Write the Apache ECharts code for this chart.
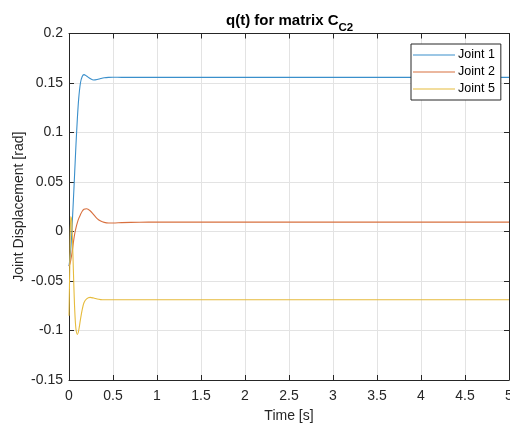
<!DOCTYPE html>
<html>
<head>
<meta charset="utf-8">
<title>q(t) for matrix C_C2</title>
<script src="https://cdn.jsdelivr.net/npm/echarts@6/dist/echarts.min.js"></script>
<style>
  html, body { margin: 0; padding: 0; background: #fff; }
  #chart { width: 510px; height: 425px; }
</style>
</head>
<body>
<div id="chart"></div>
<script>
// Sample instants [s]
const timeS = [0, 0.01, 0.02, 0.03, 0.04, 0.05, 0.06, 0.07, 0.08, 0.095, 0.11, 0.13, 0.15, 0.17, 0.2, 0.24, 0.28, 0.32, 0.36, 0.4, 0.45, 0.5, 0.6, 0.8, 1, 2, 3, 4, 5];

// Joint displacements [rad]
const joint1 = [-0.035, -0.028, -0.018, -0.004, 0.014, 0.032, 0.051, 0.07, 0.089, 0.114, 0.134, 0.150, 0.1565, 0.1585, 0.157, 0.1545, 0.153, 0.1535, 0.1545, 0.1553, 0.1557, 0.1558, 0.1557, 0.1557, 0.1557, 0.1557, 0.1557, 0.1557, 0.1557];
const joint2 = [-0.035, -0.033, -0.029, -0.024, -0.018, -0.011, -0.005, 0.0, 0.004, 0.009, 0.013, 0.017, 0.0205, 0.0225, 0.023, 0.021, 0.017, 0.013, 0.0105, 0.0092, 0.0086, 0.0086, 0.009, 0.0094, 0.0095, 0.0095, 0.0095, 0.0095, 0.0095];
const joint5 = [-0.085, -0.03, 0.015, 0.012, -0.01, -0.04, -0.068, -0.088, -0.099, -0.104, -0.100, -0.089, -0.079, -0.072, -0.068, -0.0665, -0.0672, -0.0682, -0.0688, -0.069, -0.069, -0.069, -0.069, -0.069, -0.069, -0.069, -0.069, -0.069, -0.069];

const seriesNames = ['Joint 1', 'Joint 2', 'Joint 5'];
const seriesColors = ['#3a8fcb', '#d8703f', '#e6bb3c'];

// Axis ticks
const xTicks = [0, 0.5, 1, 1.5, 2, 2.5, 3, 3.5, 4, 4.5, 5];
const yTicks = [-0.15, -0.1, -0.05, 0, 0.05, 0.1, 0.15, 0.2];

const FONT = '"Liberation Sans", Arial, Helvetica, sans-serif';
const AXIS_COLOR = '#262626';

const pairs = (ys) => timeS.map((t, i) => [t, ys[i]]);
const fmt = (v) => String(parseFloat(v.toFixed(2)));

const chart = echarts.init(document.getElementById('chart'), null, { renderer: 'canvas' });

function axisBase(extra) {
  return Object.assign({
    type: 'value',
    axisLine: { show: true, onZero: false, lineStyle: { color: AXIS_COLOR, width: 1 } },
    axisTick: { show: true, inside: true, length: 5, lineStyle: { color: AXIS_COLOR, width: 1 } },
    splitLine: { show: false }
  }, extra);
}

const option = {
  animation: false,
  backgroundColor: '#ffffff',
  title: {
    left: 221,
    top: 8,
    text: '{a|q(t) for matrix C}{s|C2}',
    textStyle: {
      rich: {
        a: { fontFamily: FONT, fontSize: 15, fontWeight: 'bold', color: '#000', verticalAlign: 'top', lineHeight: 17 },
        s: { fontFamily: FONT, fontSize: 11.5, fontWeight: 'bold', color: '#000', verticalAlign: 'top', lineHeight: 13, padding: [9, 0, 0, 0] }
      }
    }
  },
  legend: {
    orient: 'vertical',
    left: 411,
    top: 44,
    padding: [4, 6, 4, 2],
    itemGap: 3,
    itemWidth: 42,
    itemHeight: 1,
    icon: 'rect',
    backgroundColor: '#ffffff',
    borderColor: AXIS_COLOR,
    borderWidth: 1,
    borderRadius: 0,
    textStyle: { fontFamily: FONT, fontSize: 12.5, color: '#000', padding: [0, 0, 0, -2], lineHeight: 14 },
    data: seriesNames
  },
  grid: { left: 69, right: 1, top: 33.5, bottom: 45, containLabel: false, outerBoundsMode: 'none' },
  xAxis: [
    axisBase({
      min: 0, max: 5, interval: 0.5,
      name: 'Time [s]', nameLocation: 'middle', nameGap: 29, nameMoveOverlap: false,
      nameTextStyle: { fontFamily: FONT, fontSize: 14, color: AXIS_COLOR },
      axisLabel: { fontFamily: FONT, fontSize: 14, color: AXIS_COLOR, margin: 9, formatter: fmt,
        customValues: xTicks },
      splitLine: { show: true, lineStyle: { color: '#e3e3e3', width: 1 } }
    }),
    axisBase({ min: 0, max: 5, interval: 0.5, position: 'top', axisLabel: { show: false } })
  ],
  yAxis: [
    axisBase({
      min: -0.15, max: 0.2, interval: 0.05,
      name: 'Joint Displacement [rad]', nameLocation: 'middle', nameGap: 43, nameMoveOverlap: false,
      nameTextStyle: { fontFamily: FONT, fontSize: 14, color: AXIS_COLOR },
      axisLabel: { fontFamily: FONT, fontSize: 14, color: AXIS_COLOR, margin: 6, formatter: fmt,
        customValues: yTicks },
      splitLine: { show: true, lineStyle: { color: '#e3e3e3', width: 1 } }
    }),
    axisBase({ min: -0.15, max: 0.2, interval: 0.05, position: 'right', axisLabel: { show: false } })
  ],
  series: [joint1, joint2, joint5].map((ys, i) => ({
    name: seriesNames[i],
    type: 'line',
    data: pairs(ys),
    showSymbol: false,
    symbol: 'none',
    smooth: 0.3,
    lineStyle: { color: seriesColors[i], width: 1.1 },
    itemStyle: { color: seriesColors[i] },
    z: 3 + i
  }))
};

chart.setOption(option);
</script>
</body>
</html>
